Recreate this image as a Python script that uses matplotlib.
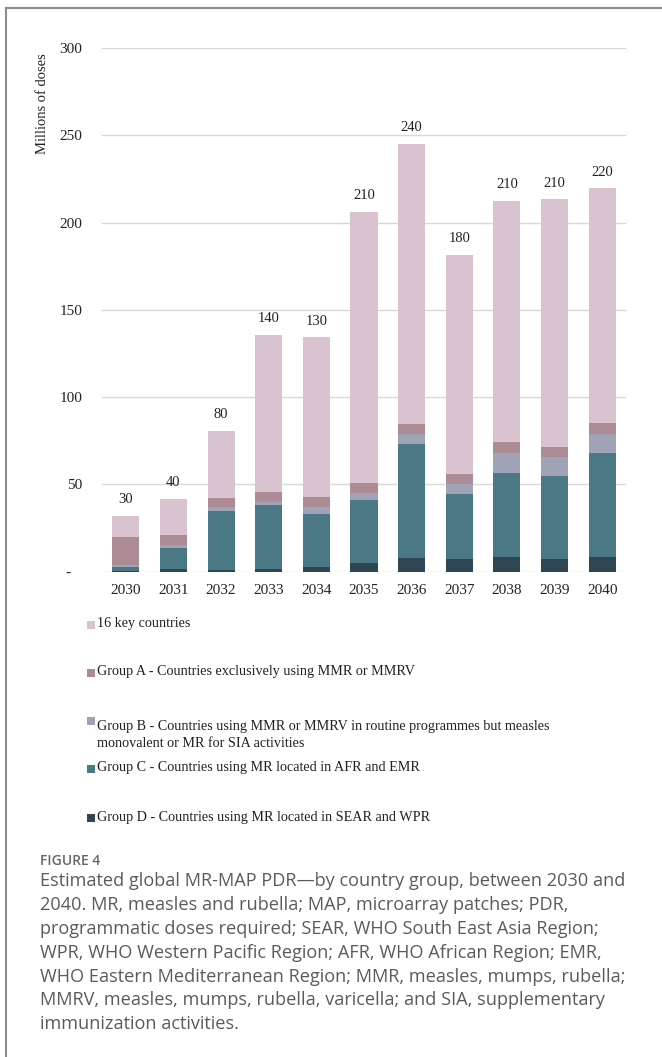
import matplotlib
matplotlib.use('Agg')
import matplotlib.pyplot as plt
from matplotlib.patches import Rectangle
from matplotlib.lines import Line2D

years = ['2030', '2031', '2032', '2033', '2034', '2035', '2036', '2037', '2038', '2039', '2040']

# millions of doses per group, stacked bottom -> top
group_d = [0.3, 1.5, 1.1, 1.5, 2.3, 5.0, 7.8, 7.2, 8.4, 7.2, 8.4]
group_c = [2.2, 12.2, 33.4, 36.7, 30.9, 36.2, 65.5, 37.4, 48.1, 47.6, 59.7]
group_b = [1.3, 1.4, 2.3, 1.9, 3.8, 4.0, 5.7, 5.4, 11.4, 10.6, 10.7]
group_a = [16.1, 5.7, 5.4, 5.5, 5.5, 5.6, 5.5, 6.1, 6.1, 5.8, 6.3]
key16 = [11.8, 21.0, 38.5, 90.0, 91.8, 155.5, 160.5, 125.4, 138.4, 142.2, 134.6]

total_labels = ['30', '40', '80', '140', '130', '210', '240', '180', '210', '210', '220']

yticks = [0, 50, 100, 150, 200, 250, 300]
ytick_labels = ['-   ', '50', '100', '150', '200', '250', '300']

series = [
    (group_d, '#2f4652', 'Group D - Countries using MR located in SEAR and WPR'),
    (group_c, '#4b7885', 'Group C - Countries using MR located in AFR and EMR'),
    (group_b, '#a0a2b5', 'Group B - Countries using MMR or MMRV in routine programmes but measles\nmonovalent or MR for SIA activities'),
    (group_a, '#ad8b95', 'Group A - Countries exclusively using MMR or MMRV'),
    (key16, '#d9c3d0', '16 key countries'),
]

serif = ['Liberation Serif', 'DejaVu Serif']
sans = ['Open Sans', 'DejaVu Sans']

W, H = 662, 1057
fig = plt.figure(figsize=(W / 100, H / 100), dpi=100)

ax = fig.add_axes([102 / W, 1 - 571.5 / H, (626 - 102) / W, (571.5 - 48.3) / H])
x = list(range(len(years)))
bottom = [0.0] * len(years)
for vals, col, lab in series:
    ax.bar(x, vals, width=0.57, bottom=bottom, color=col, linewidth=0, zorder=3)
    bottom = [b + v for b, v in zip(bottom, vals)]

for xi, top, lab in zip(x, bottom, total_labels):
    ax.annotate(lab, (xi, top), xytext=(0, 7), textcoords='offset points',
                ha='center', va='bottom', fontsize=10.5, family=serif, color='#222222')

ax.set_xlim(-0.5, 10.5)
ax.set_ylim(0, 300)
ax.set_yticks(yticks)
ax.set_yticklabels(ytick_labels, family=serif, fontsize=11, color='#222222')
ax.set_xticks(x)
ax.set_xticklabels(years, family=serif, fontsize=11, color='#222222')
ax.tick_params(axis='both', length=0)
ax.tick_params(axis='y', pad=14)
ax.tick_params(axis='x', pad=9)
ax.grid(axis='y', color='#d9d9d9', linewidth=1.0, zorder=0)
for s in ax.spines.values():
    s.set_visible(False)

fig.text(43 / W, 1 - 104 / H, 'Millions of doses', rotation=90, ha='center', va='center',
         family=serif, fontsize=10.5, color='#222222')

# legend, top to bottom
legend_rows = [(624, 4), (672, 3), (720, 2), (768, 1), (817, 0)]
for yc, idx in legend_rows:
    col = series[idx][1]
    lab = series[idx][2]
    fig.add_artist(Rectangle((87 / W, 1 - (yc + 5) / H), 8 / W, 8 / H,
                             transform=fig.transFigure, color=col, linewidth=0))
    fig.text(97 / W, 1 - yc / H, lab, ha='left', va='center' if '\n' not in lab else 'top',
             family=serif, fontsize=10.2, color='#222222', linespacing=1.4)

# frame lines
fig.add_artist(Line2D([6 / W, 1], [1 - 8 / H, 1 - 8 / H], transform=fig.transFigure,
                      color='#8c8c8c', linewidth=1.5))
fig.add_artist(Line2D([6 / W, 6 / W], [0, 1 - 8 / H], transform=fig.transFigure,
                      color='#8c8c8c', linewidth=1.5))

fig.text(40 / W, 1 - 861 / H, 'FIGURE 4', ha='left', va='center', family=sans,
         fontsize=10, color='#666666', fontweight='semibold')
caption = ('Estimated global MR-MAP PDR\u2014by country group, between 2030 and\n'
           '2040. MR, measles and rubella; MAP, microarray patches; PDR,\n'
           'programmatic doses required; SEAR, WHO South East Asia Region;\n'
           'WPR, WHO Western Pacific Region; AFR, WHO African Region; EMR,\n'
           'WHO Eastern Mediterranean Region; MMR, measles, mumps, rubella;\n'
           'MMRV, measles, mumps, rubella, varicella; and SIA, supplementary\n'
           'immunization activities.')
fig.text(40 / W, 1 - 872 / H, caption, ha='left', va='top', family=sans,
         fontsize=13.1, color='#5a5a5a', linespacing=1.42)

fig.savefig('out.png', dpi=100)
